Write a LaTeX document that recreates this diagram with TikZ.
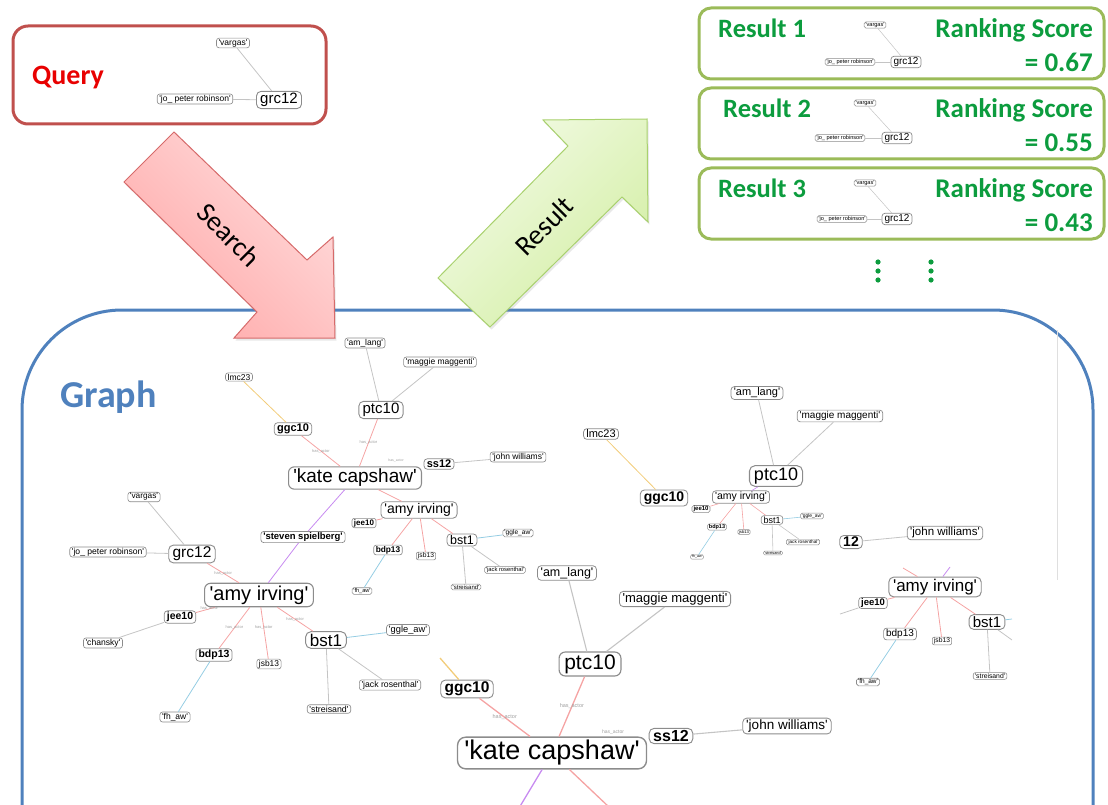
\documentclass[tikz,border=0pt]{standalone}
\usepackage{fontspec}
\usetikzlibrary{shadows}
\setmainfont{Liberation Sans}
\newfontfamily\calfont{Carlito}
\newcommand\sq{\XeTeXglyph\XeTeXcharglyph"27\relax}
\definecolor{qred}{HTML}{C0504D}
\definecolor{rgreen}{HTML}{9BBB59}
\definecolor{gblue}{HTML}{4F81BD}
\definecolor{txtgreen}{HTML}{0C9C3E}
\definecolor{txtred}{HTML}{E80000}
\definecolor{ngray}{HTML}{8C8C8C}
\definecolor{epink}{HTML}{F5A3A3}
\definecolor{egray}{HTML}{C4C4C4}
\definecolor{epurp}{HTML}{C78AF0}
\definecolor{eblue}{HTML}{95CDE3}
\definecolor{eorng}{HTML}{F2CC7A}
\definecolor{pinkA}{HTML}{FFA9A9}
\definecolor{pinkB}{HTML}{FFDCDC}
\definecolor{pinkD}{HTML}{D66A6A}
\definecolor{grnA}{HTML}{F3FBE6}
\definecolor{grnB}{HTML}{D3EEA4}
\definecolor{grnD}{HTML}{A9D16E}
\begin{document}
\begin{tikzpicture}[x=1pt,y=-1pt,
  gn/.style={draw=ngray, fill=white, rounded corners={0.3pt*#1}, inner xsep={0.25pt*#1}, inner ysep={0.12pt*#1}, line width={0.04pt*#1+0.3pt}, font=\fontsize{#1}{#1}\selectfont},
  gn/.default=8,
  gb/.style={gn=#1, font=\fontsize{#1}{#1}\selectfont\bfseries},
  gb/.default=8,
  ep/.style={draw=epink, line width=#1}, ep/.default=0.8pt,
  eg/.style={draw=egray, line width=#1}, eg/.default=0.8pt,
  ev/.style={draw=epurp, line width=#1}, ev/.default=0.8pt,
  eb/.style={draw=eblue, line width=#1}, eb/.default=0.8pt,
  eo/.style={draw=eorng, line width=#1}, eo/.default=0.8pt,
  elab/.style={font=\fontsize{#1}{#1}\selectfont, text=gray!75, inner sep=0.5pt},
  elab/.default=4,
  bigtxt/.style={font=\calfont\bfseries\fontsize{#1}{#1}\selectfont, inner sep=0pt},
  arrtxt/.style={font=\calfont\fontsize{28}{28}\selectfont, inner sep=0pt},
  arrshadow/.style={drop shadow={opacity=0.18, shadow xshift=1.5pt, shadow yshift=-2.5pt}}
]
\useasboundingbox (0,0) rectangle (1108,805);
\clip (0,0) rectangle (1108,805);

% ---------- Graph frame ----------
\draw[gblue, line width=3pt, rounded corners=100pt] (22,920) -- (22,310) -- (1093,310) -- (1093,920);
\draw[gray!25, line width=1pt] (1057,330) -- (1057,580);
\node[bigtxt=38, text=gblue, anchor=base west] (graphlbl) at (60,407) {Graph};

% ---------- Query box ----------
\draw[qred, line width=3pt, rounded corners=15pt] (13,26) rectangle (326,124);
\node[bigtxt=28, text=txtred, anchor=base west] (querylbl) at (32,85) {Query};
\node[gn=8.5] (q_vargas) at (233,43) {\sq vargas\sq};
\node[gn=8.5] (q_jo) at (195,99) {\sq jo\_ peter robinson\sq};
\node[gn=15] (q_grc12) at (279,100) {grc12};
\draw[eg] (q_grc12) -- (q_vargas);
\draw[eg] (q_grc12) -- (q_jo);

% ---------- Result boxes ----------
\foreach \yo/\num/\sc/\dx in {0/1/0.67/0, 80/2/0.55/5, 160/3/0.43/0}{
  \draw[rgreen, line width=3pt, rounded corners=12pt] (699,8+\yo) rectangle (1104,79+\yo);
  \node[bigtxt=26.5, text=txtgreen, anchor=base west] at (718+\dx,38+\yo) {Result \num};
  \node[bigtxt=27, text=txtgreen, anchor=base east] at (1093,38+\yo) {Ranking Score};
  \node[bigtxt=27, text=txtgreen, anchor=base east] at (1093,72+\yo) {= \sc};
}
\node[gn=5.6] (r1v) at (875,25) {\sq vargas\sq};
\node[gn=5.6] (r1j) at (850,62) {\sq jo\_ peter robinson\sq};
\node[gn=10] (r1g) at (906,62) {grc12};
\draw[eg=0.5pt] (r1g) -- (r1v);
\draw[eg=0.5pt] (r1g) -- (r1j);
\node[gn=5.6] (r2v) at (865,103) {\sq vargas\sq};
\node[gn=5.6] (r2j) at (840,138) {\sq jo\_ peter robinson\sq};
\node[gn=10] (r2g) at (897,138) {grc12};
\draw[eg=0.5pt] (r2g) -- (r2v);
\draw[eg=0.5pt] (r2g) -- (r2j);
\node[gn=5.6] (r3v) at (865,183) {\sq vargas\sq};
\node[gn=5.6] (r3j) at (842,219) {\sq jo\_ peter robinson\sq};
\node[gn=10] (r3g) at (897,219) {grc12};
\draw[eg=0.5pt] (r3g) -- (r3v);
\draw[eg=0.5pt] (r3g) -- (r3j);
\foreach \xx in {878,931}{
  \foreach \yy in {262,271,280}{
    \fill[txtgreen] (\xx,\yy) circle (2.6pt);
  }
}

% ---------- Arrows ----------
\path[arrshadow, draw=pinkD, line width=1pt, bottom color=pinkA, top color=pinkB, shading angle=-45]
  (174,132) -- (307,260) -- (333,237) -- (335,338) -- (234,338) -- (257,312) -- (124,182) -- cycle;
\node[arrtxt, rotate=-45] (searchlbl) at (229,235) {Search};
\path[arrshadow, draw=grnD, line width=1pt, top color=grnA, bottom color=grnB, shading angle=45]
  (490,327) -- (438,278) -- (568,146) -- (543,120) -- (647,119) -- (648,222) -- (622,197) -- cycle;
\node[arrtxt, rotate=45] (resultlbl) at (544,226) {Result};

% ---------- Cluster B (left) ----------
\node[gn=8.3] (b_vargas) at (144,497) {\sq vargas\sq};
\node[gn=8.6] (b_jo) at (108,552) {\sq jo\_ peter robinson\sq};
\node[gn=15.5] (b_grc12) at (192,554) {grc12};
\node[gn=20] (b_amy) at (259,595) {\sq amy irving\sq};
\node[gb=10.5] (b_jee10) at (180,617) {jee10};
\node[gn=8.6] (b_chansky) at (103,643) {\sq chansky\sq};
\node[gb=10.5] (b_bdp13) at (214,655) {bdp13};
\node[gn=8.4] (b_jsb13) at (269,664) {jsb13};
\node[gn=17] (b_bst1) at (326,640) {bst1};
\node[gn=9.3] (b_ggle) at (408,630) {\sq ggle\_aw\sq};
\node[gn=8.7] (b_jack) at (390,685) {\sq jack rosenthal\sq};
\node[gn=8.8] (b_streisand) at (329,709) {\sq streisand\sq};
\node[gn=8.5] (b_fhaw) at (175,717) {\sq fh\_aw\sq};
\draw[eg] (b_vargas) -- (b_grc12);
\draw[eg] (b_jo) -- (b_grc12);
\draw[ep] (b_grc12) -- node[elab]{has\_actor} (b_amy);
\draw[ep] (b_amy) -- node[elab, pos=.3]{has\_actor} (b_jee10);
\draw[eg] (b_jee10) -- (b_chansky);
\draw[ep] (b_amy) -- node[elab]{has\_actor} (b_bdp13);
\draw[ep] (b_amy) -- node[elab, pos=.4]{has\_actor} (b_jsb13);
\draw[ep] (b_amy) -- node[elab]{has\_actor} (b_bst1);
\draw[eb] (b_bdp13) -- (b_fhaw);
\draw[eb] (b_bst1) -- (b_ggle);
\draw[eg] (b_bst1) -- (b_jack);
\draw[eg] (b_bst1) -- (b_streisand);

% ---------- Cluster A (upper middle) ----------
\node[gn=8.5] (a_amlang) at (365,343) {\sq am\_lang\sq};
\node[gn=8.5] (a_maggie) at (440,362) {\sq maggie maggenti\sq};
\node[gn=15] (a_ptc10) at (381,410) {ptc10};
\node[gn=8.5] (a_lmc23) at (239,377) {lmc23};
\node[gb=11] (a_ggc10) at (293,429) {ggc10};
\node[gn=19] (a_kate) at (355,478) {\sq kate capshaw\sq};
\node[gb=11] (a_ss12) at (439,464) {ss12};
\node[gn=8.5] (a_john) at (518,457) {\sq john williams\sq};
\node[gn=14] (a_amy) at (419,510) {\sq amy irving\sq};
\node[gb=8] (a_jee10) at (364,523) {jee10};
\node[gb=9.5] (a_steven) at (303,537) {\sq steven spielberg\sq};
\node[gb=8.3] (a_bdp13) at (388,550) {bdp13};
\node[gn=6.7] (a_jsb13) at (426,556) {jsb13};
\node[gn=12.5] (a_bst1) at (462,540) {bst1};
\node[gn=6.6] (a_ggle) at (518,533) {\sq ggle\_aw\sq};
\node[gn=5.8] (a_jack) at (505,570) {\sq jack rosenthal\sq};
\node[gn=6] (a_streisand) at (466,587) {\sq streisand\sq};
\node[gn=5.6] (a_fhaw) at (362,591) {\sq fh\_aw\sq};
\draw[eg] (a_amlang) -- (a_ptc10);
\draw[eg] (a_maggie) -- (a_ptc10);
\draw[ep] (a_ptc10) -- node[elab]{has\_actor} (a_kate);
\draw[eo] (a_lmc23) -- (a_ggc10);
\draw[ep] (a_ggc10) -- node[elab]{has\_actor} (a_kate);
\draw[eg] (a_ss12) -- (a_john);
\draw[ev] (a_kate) -- (a_steven);
\draw[ev] (a_steven) -- (b_amy);
\draw[ep] (a_kate) -- (a_amy);
\draw[ep] (a_amy) -- (a_jee10);
\draw[ep] (a_amy) -- (a_bdp13);
\draw[ep] (a_amy) -- (a_jsb13);
\draw[ep] (a_amy) -- (a_bst1);
\draw[eb] (a_bdp13) -- (a_fhaw);
\draw[eb] (a_bst1) -- (a_ggle);
\draw[eg] (a_bst1) -- (a_jack);
\draw[eg] (a_bst1) -- (a_streisand);
\node[elab=3.5] (a_lab) at (396,461) {has\_actor};

% ---------- Cluster C (lower middle) ----------
\node[gn=12.5] (c_amlang) at (567,573) {\sq am\_lang\sq};
\node[gn=13] (c_maggie) at (675,599) {\sq maggie maggenti\sq};
\node[gn=21] (c_ptc10) at (590,664) {ptc10};
\node[gb=15.5] (c_ggc10) at (467,689) {ggc10};
\node[gn=27] (c_kate) at (552,753) {\sq kate capshaw\sq};
\node[gb=16] (c_ss12) at (671,736) {ss12};
\node[gn=13.5] (c_john) at (787,726) {\sq john williams\sq};
\coordinate (c_s1) at (519,808);
\coordinate (c_s2) at (610,808);
\coordinate (c_s3) at (440,658);
\draw[eg=1.1pt] (c_amlang) -- (c_ptc10);
\draw[eg=1.1pt] (c_maggie) -- (c_ptc10);
\draw[ep=1.3pt] (c_ptc10) -- node[elab=5.5]{has\_actor} (c_kate);
\draw[ep=1.3pt] (c_ggc10) -- node[elab=5.5]{has\_actor} (c_kate);
\draw[eg=1.1pt] (c_ss12) -- (c_john);
\draw[eo=1.3pt] (c_s3) -- (c_ggc10);
\draw[ev=1.3pt] (c_kate) -- (c_s1);
\draw[ep=1.3pt] (c_kate) -- (c_s2);
\node[elab=5] (c_lab) at (613,732) {has\_actor};

% ---------- Cluster D (upper right) ----------
\node[gn=11] (d_lmc23) at (601,434) {lmc23};
\node[gb=14] (d_ggc10) at (664,498) {ggc10};
\node[gn=11] (d_amlang) at (757,393) {\sq am\_lang\sq};
\node[gn=10] (d_maggie) at (840,416) {\sq maggie maggenti\sq};
\node[gn=18] (d_ptc10) at (776,476) {ptc10};
\node[gn=10.5] (d_amy) at (741,497) {\sq amy irving\sq};
\node[gb=6] (d_jee10) at (701,509) {jee10};
\node[gb=5.5] (d_bdp13) at (717,527) {bdp13};
\node[gn=4.2] (d_jsb13) at (744,532) {jsb13};
\node[gn=9] (d_bst1) at (772,520) {bst1};
\node[gn=4.9] (d_ggle) at (812,516) {\sq ggle\_aw\sq};
\node[gn=4.7] (d_jack) at (803,542) {\sq jack rosenthal\sq};
\node[gn=3.8] (d_streisand) at (773,553) {\sq streisand\sq};
\node[gn=3.6] (d_fhaw) at (697,557) {\sq fh\_aw\sq};
\draw[eo] (d_lmc23) -- (d_ggc10);
\draw[eg] (d_amlang) -- (d_ptc10);
\draw[eg] (d_maggie) -- (d_ptc10);
\draw[ev=0.6pt] (d_ptc10) -- (d_amy);
\draw[ep=0.6pt] (d_amy) -- (d_jee10);
\draw[ep=0.6pt] (d_amy) -- (d_bdp13);
\draw[ep=0.6pt] (d_amy) -- (d_jsb13);
\draw[ep=0.6pt] (d_amy) -- (d_bst1);
\draw[eb=0.6pt] (d_bdp13) -- (d_fhaw);
\draw[eb=0.6pt] (d_bst1) -- (d_ggle);
\draw[eg=0.6pt] (d_bst1) -- (d_jack);
\draw[eg=0.6pt] (d_bst1) -- (d_streisand);

% ---------- Cluster E (lower right) ----------
\node[gb=14] (e_12) at (851,542) {12};
\node[gn=11.5] (e_john) at (945,533) {\sq john williams\sq};
\node[gn=17] (e_amy) at (935,587) {\sq amy irving\sq};
\node[gb=9.5] (e_jee10) at (873,603) {jee10};
\node[gn=10] (e_bdp13) at (900,634) {bdp13};
\node[gn=6.7] (e_jsb13) at (942,641) {jsb13};
\node[gn=15] (e_bst1) at (987,622) {bst1};
\node[gn=6.8] (e_streisand) at (990,676) {\sq streisand\sq};
\node[gn=6.5] (e_fhaw) at (868,682) {\sq fh\_aw\sq};
\coordinate (e_s1) at (903,568);
\coordinate (e_s2) at (950,567);
\coordinate (e_s3) at (840,614);
\coordinate (e_s4) at (1012,619);
\coordinate (e_s5) at (1012,640);
\draw[eg] (e_12) -- (e_john);
\draw[ep] (e_amy) -- (e_s1);
\draw[ev] (e_amy) -- (e_s2);
\draw[ep] (e_amy) -- (e_jee10);
\draw[eg] (e_jee10) -- (e_s3);
\draw[ep] (e_amy) -- (e_bdp13);
\draw[ep] (e_amy) -- (e_jsb13);
\draw[ep] (e_amy) -- (e_bst1);
\draw[eb] (e_bdp13) -- (e_fhaw);
\draw[eg] (e_bst1) -- (e_streisand);
\draw[eb] (e_bst1) -- (e_s4);
\draw[eg] (e_bst1) -- (e_s5);
\end{tikzpicture}
\end{document}
